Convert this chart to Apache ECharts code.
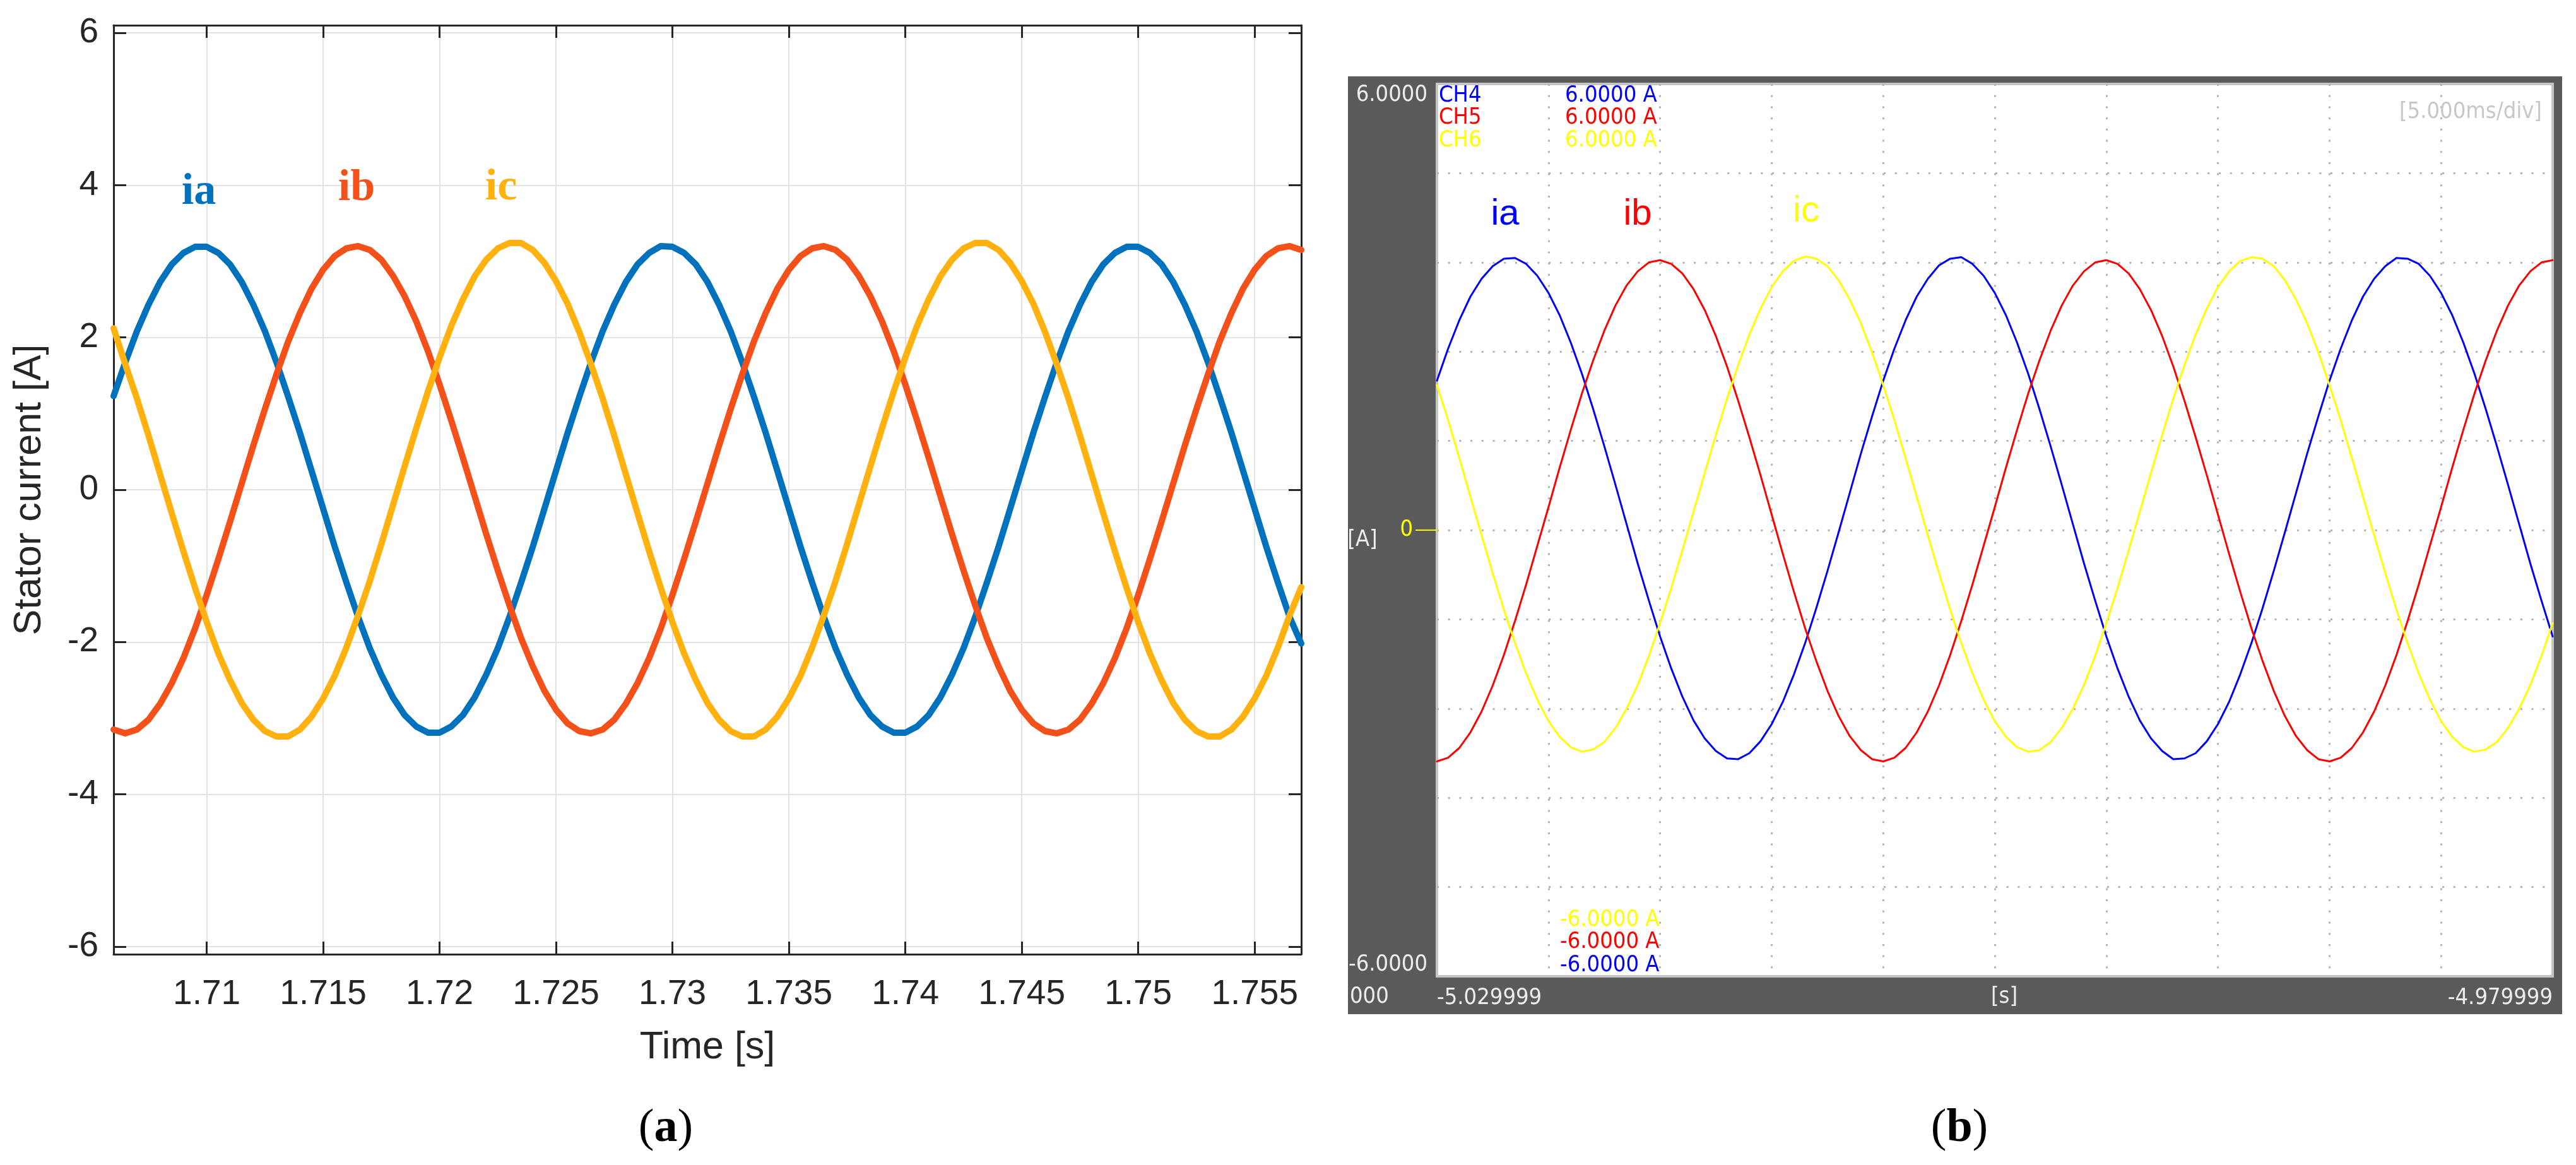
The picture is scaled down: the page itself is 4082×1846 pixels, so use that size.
<!DOCTYPE html>
<html>
<head>
<meta charset="utf-8">
<script src="https://cdn.jsdelivr.net/npm/echarts@6.0.0/dist/echarts.min.js"></script>
<style>
  html, body { margin: 0; padding: 0; background: #fff; }
  #main { width: 4082px; height: 1846px; }
</style>
</head>
<body>
<div id="main"></div>
<script>
// ---- panel (a): simulation, time in s, sampled every 0.5 ms ----
var timeA = [
  1.7060, 1.7065, 1.7070, 1.7075, 1.7080, 1.7085, 1.7090, 1.7095, 1.7100, 1.7105,
  1.7110, 1.7115, 1.7120, 1.7125, 1.7130, 1.7135, 1.7140, 1.7145, 1.7150, 1.7155,
  1.7160, 1.7165, 1.7170, 1.7175, 1.7180, 1.7185, 1.7190, 1.7195, 1.7200, 1.7205,
  1.7210, 1.7215, 1.7220, 1.7225, 1.7230, 1.7235, 1.7240, 1.7245, 1.7250, 1.7255,
  1.7260, 1.7265, 1.7270, 1.7275, 1.7280, 1.7285, 1.7290, 1.7295, 1.7300, 1.7305,
  1.7310, 1.7315, 1.7320, 1.7325, 1.7330, 1.7335, 1.7340, 1.7345, 1.7350, 1.7355,
  1.7360, 1.7365, 1.7370, 1.7375, 1.7380, 1.7385, 1.7390, 1.7395, 1.7400, 1.7405,
  1.7410, 1.7415, 1.7420, 1.7425, 1.7430, 1.7435, 1.7440, 1.7445, 1.7450, 1.7455,
  1.7460, 1.7465, 1.7470, 1.7475, 1.7480, 1.7485, 1.7490, 1.7495, 1.7500, 1.7505,
  1.7510, 1.7515, 1.7520, 1.7525, 1.7530, 1.7535, 1.7540, 1.7545, 1.7550, 1.7555,
  1.7560, 1.7565, 1.7570];
var iaA = [
  1.23, 1.67, 2.08, 2.43, 2.73, 2.96, 3.11, 3.19, 3.19, 3.11,
  2.96, 2.73, 2.43, 2.08, 1.67, 1.22, 0.75, 0.25, -0.25, -0.75,
  -1.22, -1.67, -2.08, -2.43, -2.73, -2.96, -3.11, -3.19, -3.19, -3.11,
  -2.96, -2.73, -2.43, -2.08, -1.67, -1.22, -0.75, -0.25, 0.25, 0.75,
  1.22, 1.67, 2.08, 2.43, 2.73, 2.96, 3.11, 3.20, 3.19, 3.11,
  2.96, 2.73, 2.43, 2.08, 1.67, 1.22, 0.75, 0.25, -0.25, -0.75,
  -1.22, -1.67, -2.08, -2.43, -2.73, -2.96, -3.11, -3.19, -3.19, -3.11,
  -2.96, -2.73, -2.43, -2.08, -1.67, -1.22, -0.75, -0.25, 0.25, 0.75,
  1.22, 1.67, 2.08, 2.43, 2.73, 2.96, 3.11, 3.19, 3.19, 3.11,
  2.96, 2.73, 2.43, 2.08, 1.67, 1.22, 0.75, 0.25, -0.25, -0.75,
  -1.22, -1.67, -2.02];
var ibA = [
  -3.15, -3.20, -3.15, -3.02, -2.81, -2.54, -2.21, -1.82, -1.38, -0.91,
  -0.42, 0.08, 0.58, 1.06, 1.52, 1.95, 2.32, 2.64, 2.89, 3.07,
  3.17, 3.20, 3.15, 3.02, 2.81, 2.54, 2.21, 1.82, 1.38, 0.91,
  0.42, -0.08, -0.58, -1.06, -1.52, -1.95, -2.32, -2.64, -2.89, -3.07,
  -3.17, -3.20, -3.15, -3.02, -2.81, -2.54, -2.21, -1.82, -1.38, -0.91,
  -0.42, 0.08, 0.58, 1.06, 1.52, 1.95, 2.32, 2.64, 2.89, 3.07,
  3.17, 3.20, 3.15, 3.02, 2.81, 2.54, 2.21, 1.82, 1.38, 0.91,
  0.42, -0.08, -0.58, -1.06, -1.52, -1.95, -2.32, -2.64, -2.89, -3.07,
  -3.17, -3.20, -3.15, -3.02, -2.81, -2.54, -2.21, -1.82, -1.38, -0.91,
  -0.42, 0.08, 0.58, 1.06, 1.52, 1.95, 2.32, 2.64, 2.89, 3.07,
  3.17, 3.20, 3.15];
var icA = [
  2.12, 1.65, 1.20, 0.71, 0.20, -0.31, -0.81, -1.29, -1.74, -2.15,
  -2.50, -2.80, -3.02, -3.17, -3.24, -3.24, -3.15, -2.98, -2.74, -2.44,
  -2.07, -1.65, -1.20, -0.71, -0.20, 0.31, 0.81, 1.29, 1.74, 2.15,
  2.50, 2.80, 3.02, 3.17, 3.24, 3.24, 3.15, 2.98, 2.74, 2.44,
  2.07, 1.65, 1.20, 0.71, 0.20, -0.31, -0.81, -1.29, -1.74, -2.15,
  -2.50, -2.80, -3.02, -3.17, -3.24, -3.24, -3.15, -2.98, -2.74, -2.44,
  -2.07, -1.65, -1.20, -0.71, -0.20, 0.31, 0.81, 1.29, 1.74, 2.15,
  2.50, 2.80, 3.02, 3.17, 3.24, 3.24, 3.15, 2.98, 2.74, 2.44,
  2.07, 1.65, 1.20, 0.71, 0.20, -0.31, -0.81, -1.29, -1.74, -2.15,
  -2.50, -2.80, -3.02, -3.17, -3.24, -3.24, -3.15, -2.98, -2.74, -2.44,
  -2.07, -1.65, -1.28];
var xTicksA = [1.71, 1.715, 1.72, 1.725, 1.73, 1.735, 1.74, 1.745, 1.75, 1.755];
var yTicksA = [-6, -4, -2, 0, 2, 4, 6];

// ---- panel (b): oscilloscope record, time in s, sampled every 0.5 ms ----
var timeB = [
  -5.0300, -5.0295, -5.0290, -5.0285, -5.0280, -5.0275, -5.0270, -5.0265, -5.0260, -5.0255,
  -5.0250, -5.0245, -5.0240, -5.0235, -5.0230, -5.0225, -5.0220, -5.0215, -5.0210, -5.0205,
  -5.0200, -5.0195, -5.0190, -5.0185, -5.0180, -5.0175, -5.0170, -5.0165, -5.0160, -5.0155,
  -5.0150, -5.0145, -5.0140, -5.0135, -5.0130, -5.0125, -5.0120, -5.0115, -5.0110, -5.0105,
  -5.0100, -5.0095, -5.0090, -5.0085, -5.0080, -5.0075, -5.0070, -5.0065, -5.0060, -5.0055,
  -5.0050, -5.0045, -5.0040, -5.0035, -5.0030, -5.0025, -5.0020, -5.0015, -5.0010, -5.0005,
  -5.0000, -4.9995, -4.9990, -4.9985, -4.9980, -4.9975, -4.9970, -4.9965, -4.9960, -4.9955,
  -4.9950, -4.9945, -4.9940, -4.9935, -4.9930, -4.9925, -4.9920, -4.9915, -4.9910, -4.9905,
  -4.9900, -4.9895, -4.9890, -4.9885, -4.9880, -4.9875, -4.9870, -4.9865, -4.9860, -4.9855,
  -4.9850, -4.9845, -4.9840, -4.9835, -4.9830, -4.9825, -4.9820, -4.9815, -4.9810, -4.9805,
  -4.9800];
var iaB = [
  2.01, 2.44, 2.82, 3.14, 3.38, 3.55, 3.65, 3.66, 3.58, 3.42,
  3.19, 2.89, 2.52, 2.10, 1.63, 1.13, 0.61, 0.08, -0.45, -0.95,
  -1.43, -1.86, -2.24, -2.56, -2.80, -2.97, -3.07, -3.08, -3.00, -2.84,
  -2.61, -2.31, -1.94, -1.52, -1.05, -0.55, -0.03, 0.50, 1.03, 1.53,
  2.01, 2.44, 2.82, 3.14, 3.38, 3.56, 3.65, 3.67, 3.58, 3.42,
  3.19, 2.89, 2.52, 2.10, 1.63, 1.13, 0.61, 0.08, -0.45, -0.95,
  -1.43, -1.86, -2.24, -2.56, -2.80, -2.97, -3.08, -3.07, -3.00, -2.84,
  -2.61, -2.31, -1.94, -1.52, -1.05, -0.55, -0.03, 0.50, 1.03, 1.53,
  2.01, 2.44, 2.82, 3.14, 3.38, 3.55, 3.66, 3.65, 3.58, 3.42,
  3.19, 2.89, 2.52, 2.10, 1.63, 1.13, 0.61, 0.08, -0.45, -0.95,
  -1.43];
var ibB = [
  -3.11, -3.06, -2.93, -2.72, -2.44, -2.09, -1.68, -1.22, -0.73, -0.21,
  0.31, 0.84, 1.35, 1.84, 2.28, 2.68, 3.02, 3.29, 3.48, 3.60,
  3.63, 3.58, 3.45, 3.24, 2.96, 2.61, 2.20, 1.74, 1.25, 0.74,
  0.21, -0.32, -0.83, -1.32, -1.76, -2.16, -2.50, -2.77, -2.96, -3.08,
  -3.11, -3.06, -2.93, -2.72, -2.44, -2.09, -1.68, -1.22, -0.73, -0.21,
  0.31, 0.84, 1.35, 1.84, 2.28, 2.68, 3.02, 3.29, 3.48, 3.60,
  3.63, 3.58, 3.45, 3.24, 2.96, 2.61, 2.20, 1.74, 1.25, 0.74,
  0.21, -0.32, -0.83, -1.32, -1.76, -2.16, -2.50, -2.77, -2.96, -3.08,
  -3.11, -3.06, -2.93, -2.72, -2.44, -2.09, -1.68, -1.22, -0.73, -0.21,
  0.31, 0.84, 1.35, 1.84, 2.28, 2.68, 3.02, 3.29, 3.48, 3.60,
  3.63];
var icB = [
  1.95, 1.48, 0.97, 0.45, -0.07, -0.58, -1.07, -1.52, -1.93, -2.28,
  -2.57, -2.78, -2.92, -2.98, -2.95, -2.85, -2.66, -2.40, -2.08, -1.69,
  -1.25, -0.78, -0.27, 0.25, 0.77, 1.28, 1.77, 2.22, 2.63, 2.98,
  3.27, 3.48, 3.62, 3.68, 3.65, 3.55, 3.36, 3.10, 2.78, 2.39,
  1.95, 1.48, 0.97, 0.45, -0.07, -0.58, -1.07, -1.52, -1.93, -2.28,
  -2.57, -2.78, -2.92, -2.98, -2.96, -2.85, -2.66, -2.40, -2.08, -1.69,
  -1.25, -0.78, -0.27, 0.25, 0.77, 1.28, 1.77, 2.22, 2.63, 2.98,
  3.27, 3.48, 3.62, 3.67, 3.65, 3.55, 3.36, 3.10, 2.78, 2.39,
  1.95, 1.48, 0.97, 0.45, -0.07, -0.58, -1.07, -1.52, -1.93, -2.28,
  -2.57, -2.78, -2.92, -2.98, -2.95, -2.85, -2.66, -2.40, -2.08, -1.69,
  -1.25];
var timeLabelsB = ['-5.029999', '-4.979999'];
var levelValuesB = [-6, 6];
var levelLabelsB = ['-6.0000', '6.0000'];

function pairs(xs, ys) {
  return xs.map(function (x, i) { return [x, ys[i]]; });
}

var SANS = '"Liberation Sans", Arial, Helvetica, sans-serif';
var NARROW = '"Liberation Sans Narrow", "DejaVu Sans Condensed", "Liberation Sans", sans-serif';
var SERIF = '"Liberation Serif", "Times New Roman", serif';
var INK = '#262626';

var chart = echarts.init(document.getElementById('main'));

// matlab style box axes, ticks pointing in
var tickA = { show: true, inside: true, length: 20, customValues: xTicksA, lineStyle: { color: INK, width: 3 } };
var tickAy = { show: true, inside: true, length: 20, customValues: yTicksA, lineStyle: { color: INK, width: 3 } };

function txt(x, y, s, color, size, font, align, extra) {
  var st = { text: s, fill: color, font: (extra || '') + ' ' + size + 'px ' + font, textAlign: align || 'center', textVerticalAlign: 'middle' };
  return { type: 'text', x: x, y: y, z: 100, style: st };
}

function curve(name, xi, yi, xs, ys, color, width, z) {
  return { name: name, type: 'line', xAxisIndex: xi, yAxisIndex: yi, data: pairs(xs, ys),
    showSymbol: false, z: z, lineStyle: { color: color, width: width, join: 'round', cap: 'round' } };
}

chart.setOption({
  backgroundColor: '#fff',
  animation: false,
  grid: [
    { left: 180, top: 40, width: 1882, height: 1472, outerBoundsMode: 'none', show: false },
    { left: 2277, top: 133, width: 1768, height: 1414, outerBoundsMode: 'none', show: true,
      backgroundColor: '#ffffff', borderColor: '#c4c4c4', borderWidth: 4 }
  ],
  xAxis: [
    { type: 'value', gridIndex: 0, min: 1.706, max: 1.757, position: 'bottom',
      name: 'Time [s]', nameLocation: 'middle', nameGap: 118,
      nameTextStyle: { color: INK, fontSize: 61, fontFamily: SANS },
      axisLine: { show: true, onZero: false, lineStyle: { color: INK, width: 3 } },
      axisTick: tickA,
      axisLabel: { show: true, customValues: xTicksA, margin: 36, color: INK, fontSize: 55, fontFamily: SANS },
      splitLine: { show: true, lineStyle: { color: '#e3e3e3', width: 2 } } },
    { type: 'value', gridIndex: 0, min: 1.706, max: 1.757, position: 'top',
      axisLine: { show: true, onZero: false, lineStyle: { color: INK, width: 3 } },
      axisTick: tickA, axisLabel: { show: false }, splitLine: { show: false } },
    { type: 'value', gridIndex: 1, min: -5.03, max: -4.98, interval: 0.005, position: 'bottom',
      axisLine: { show: false }, axisTick: { show: false },
      axisLabel: { show: true, customValues: [timeB[0], timeB[timeB.length - 1]], margin: 17,
        alignMinLabel: 'left', alignMaxLabel: 'right',
        color: '#ececec', fontSize: 36, fontFamily: NARROW,
        formatter: function (v) { return Math.abs(v - timeB[0]) < 1e-6 ? timeLabelsB[0] : timeLabelsB[1]; } },
      splitLine: { show: true, showMinLine: false, showMaxLine: false,
        lineStyle: { color: '#b4b4b4', width: 3, type: [3, 14.7] } } }
  ],
  yAxis: [
    { type: 'value', gridIndex: 0, min: -6.1, max: 6.1, position: 'left',
      name: 'Stator current [A]', nameLocation: 'middle', nameGap: 102,
      nameTextStyle: { color: INK, fontSize: 61, fontFamily: SANS },
      axisLine: { show: true, onZero: false, lineStyle: { color: INK, width: 3 } },
      axisTick: tickAy,
      axisLabel: { show: true, customValues: yTicksA, margin: 24, color: INK, fontSize: 55, fontFamily: SANS },
      splitLine: { show: true, lineStyle: { color: '#e3e3e3', width: 2 } } },
    { type: 'value', gridIndex: 0, min: -6.1, max: 6.1, position: 'right',
      axisLine: { show: true, onZero: false, lineStyle: { color: INK, width: 3 } },
      axisTick: tickAy, axisLabel: { show: false }, splitLine: { show: false } },
    { type: 'value', gridIndex: 1, min: -6, max: 6, interval: 1.2, position: 'left',
      axisLine: { show: false }, axisTick: { show: false },
      axisLabel: { show: true, customValues: levelValuesB, margin: 15,
        verticalAlignMinLabel: 'bottom', verticalAlignMaxLabel: 'top',
        color: '#ececec', fontSize: 36, fontFamily: NARROW,
        formatter: function (v) { return levelLabelsB[levelValuesB.indexOf(v)]; } },
      splitLine: { show: true, showMinLine: false, showMaxLine: false,
        lineStyle: { color: '#b4b4b4', width: 3, type: [3, 14.7] } } },
    { type: 'value', gridIndex: 1, min: -6, max: 6, position: 'left',
      axisLine: { show: false },
      axisTick: { show: true, customValues: [0], length: 34, lineStyle: { color: '#ffff00', width: 2 } },
      axisLabel: { show: true, customValues: [0], margin: 38, color: '#ffff00', fontSize: 36, fontFamily: NARROW },
      splitLine: { show: false } }
  ],
  series: [
    curve('ia', 0, 0, timeA, iaA, '#0072bd', 10, 3),
    curve('ib', 0, 0, timeA, ibA, '#f4511a', 10, 4),
    curve('ic', 0, 0, timeA, icA, '#ffb10f', 10, 5),
    curve('CH4', 2, 2, timeB, iaB, '#0000ff', 3, 3),
    curve('CH5', 2, 2, timeB, ibB, '#ff0000', 3, 4),
    curve('CH6', 2, 2, timeB, icB, '#ffff00', 3, 5)
  ],
  graphic: [
    // scope frame behind panel (b)
    { type: 'rect', x: 2136, y: 121, z: -10, shape: { width: 1924, height: 1486 }, style: { fill: '#5a5a5a' } },
    // panel (a) phase labels
    txt(315, 305, 'ia', '#0072bd', 70, SERIF, 'center', 'bold'),
    txt(565, 299, 'ib', '#f4511a', 70, SERIF, 'center', 'bold'),
    txt(794, 298, 'ic', '#ffb10f', 70, SERIF, 'center', 'bold'),
    // panel (b) scope annotations
    txt(2280, 152, 'CH4', '#0000ff', 36, NARROW, 'left'),
    txt(2280, 187, 'CH5', '#ff0000', 36, NARROW, 'left'),
    txt(2280, 223, 'CH6', '#ffff00', 36, NARROW, 'left'),
    txt(2480, 152, '6.0000 A', '#0000ff', 36, NARROW, 'left'),
    txt(2480, 187, '6.0000 A', '#ff0000', 36, NARROW, 'left'),
    txt(2480, 223, '6.0000 A', '#ffff00', 36, NARROW, 'left'),
    txt(2472, 1458, '-6.0000 A', '#ffff00', 36, NARROW, 'left'),
    txt(2472, 1493, '-6.0000 A', '#ff0000', 36, NARROW, 'left'),
    txt(2472, 1530, '-6.0000 A', '#0000ff', 36, NARROW, 'left'),
    txt(4028, 178, '[5.000ms/div]', '#c8c8c8', 36, NARROW, 'right'),
    txt(2159, 856, '[A]', '#ececec', 36, NARROW, 'center'),
    txt(3176, 1580, '[s]', '#ececec', 36, NARROW, 'center'),
    txt(2139, 1580, '000', '#ececec', 36, NARROW, 'left'),
    txt(2385, 340, 'ia', '#0000ff', 58, SANS, 'center'),
    txt(2595, 340, 'ib', '#ff0000', 58, SANS, 'center'),
    txt(2862, 335, 'ic', '#ffff00', 58, SANS, 'center'),
    // sub-figure captions
    { type: 'text', x: 1055, y: 1789, z: 100, style: { text: '{p|(}{b|a}{p|)}', textAlign: 'center', textVerticalAlign: 'middle',
      rich: { p: { fontSize: 74, fontFamily: SERIF, fill: '#000' }, b: { fontSize: 74, fontFamily: SERIF, fontWeight: 'bold', fill: '#000' } } } },
    { type: 'text', x: 3105, y: 1789, z: 100, style: { text: '{p|(}{b|b}{p|)}', textAlign: 'center', textVerticalAlign: 'middle',
      rich: { p: { fontSize: 74, fontFamily: SERIF, fill: '#000' }, b: { fontSize: 74, fontFamily: SERIF, fontWeight: 'bold', fill: '#000' } } } }
  ]
});
</script>
</body>
</html>
